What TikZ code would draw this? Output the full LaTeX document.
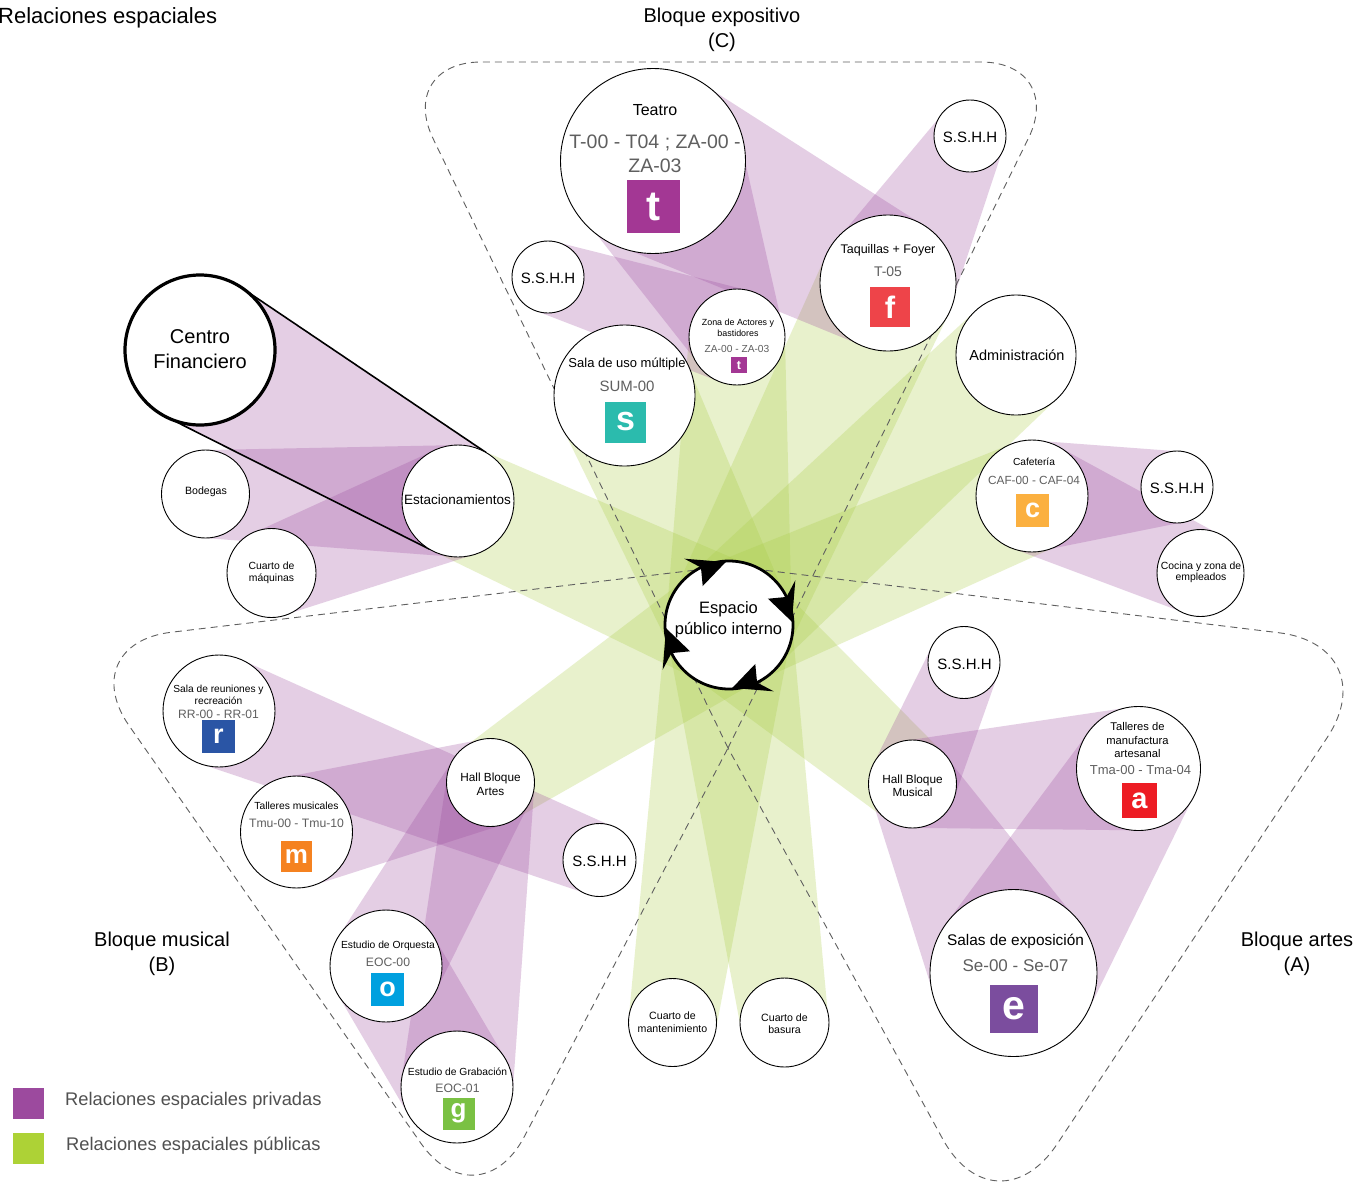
\documentclass[tikz,border=0pt]{standalone}
\usepackage{fontspec}
\setmainfont{Liberation Sans}
\usetikzlibrary{calc}
\pgfdeclarelayer{bands}
\pgfdeclarelayer{dashes}
\pgfsetlayers{bands,dashes,main}
\definecolor{priv}{RGB}{156,74,158}
\definecolor{pub}{RGB}{170,205,70}
\definecolor{legpriv}{RGB}{156,74,158}
\definecolor{legpub}{RGB}{173,210,54}
\definecolor{codegray}{RGB}{95,95,95}
\definecolor{leggray}{RGB}{80,80,80}
\definecolor{dashgray}{RGB}{95,95,95}
\definecolor{sqt}{RGB}{163,55,148}
\definecolor{sqs}{RGB}{43,187,173}
\definecolor{sqf}{RGB}{238,68,73}
\definecolor{sqc}{RGB}{251,176,64}
\definecolor{sqr}{RGB}{42,85,165}
\definecolor{sqm}{RGB}{245,130,32}
\definecolor{sqo}{RGB}{0,160,223}
\definecolor{sqg}{RGB}{122,193,67}
\definecolor{sqa}{RGB}{237,28,36}
\definecolor{sqe}{RGB}{123,77,158}
\newcommand\myfs[2]{\fontsize{#1}{#2}\selectfont}
\newcommand\relband[5]{%
  \fill[#1] ($(#2.center)!#3pt!90:(#4.center)$) -- ($(#2.center)!#3pt!-90:(#4.center)$)
    -- ($(#4.center)!#5pt!90:(#2.center)$) -- ($(#4.center)!#5pt!-90:(#2.center)$) -- cycle;}
\tikzset{
  room/.style={circle, draw=black, line width=0.9pt, fill=white, inner sep=0pt, minimum size=#1pt},
  lbl/.style={inner sep=0pt, align=center, text=black},
  code/.style={inner sep=0pt, align=center, text=codegray},
  sq/.style={fill=#1, text=white, inner sep=0pt},
  privband/.style={fill=priv, fill opacity=0.27},
  pubband/.style={fill=pub, fill opacity=0.27},
  blockline/.style={draw=dashgray, line width=0.9pt, dash pattern=on 7pt off 5pt},
  blocktitle/.style={inner sep=0pt, align=center, font=\myfs{20}{25}},
  tangent/.style={draw=black, line width=1.6pt},
  legtext/.style={inner sep=0pt, anchor=west, text=leggray, font=\myfs{18.3}{22}},
}
\begin{document}
\begin{tikzpicture}[x=1pt,y=-1pt]
\useasboundingbox (0,0) rectangle (1355,1181);

% ---------- rooms ----------
\node[room=150, line width=3.2pt] (cf) at (200,350) {};
\node[room=112] (est) at (458,501) {};
\node[room=88] (bod) at (205.5,494) {};
\node[room=89] (maq) at (271.5,573) {};
\node[room=185] (teatro) at (653,161) {};
\node[room=72] (ssB) at (548,277) {};
\node[room=96] (za) at (737,337) {};
\node[room=141] (sum) at (624.5,395.5) {};
\node[room=136] (taq) at (888,283) {};
\node[room=72] (ssA) at (970,136) {};
\node[room=120] (admin) at (1016,355) {};
\node[room=112] (caf) at (1032,496) {};
\node[room=72] (ssC) at (1177,487) {};
\node[room=87] (cocina) at (1200.5,573) {};
\node[room=128, line width=2.8pt] (esp) at (729,625) {};
\node[room=88] (hallA) at (490.5,782.5) {};
\node[room=112] (reu) at (219,711) {};
\node[room=112] (tmu) at (296.5,832) {};
\node[room=73] (ssD) at (599.5,860) {};
\node[room=112] (orq) at (386,966) {};
\node[room=112] (grab) at (457,1087) {};
\node[room=88] (mant) at (672.5,1022.5) {};
\node[room=89] (bas) at (784.5,1022.5) {};
\node[room=72] (ssE) at (964,662.5) {};
\node[room=88] (hallM) at (912.5,784) {};
\node[room=124] (tman) at (1138.5,768.5) {};
\node[room=167] (salas) at (1013.5,973) {};

% ---------- block outline corners ----------
\coordinate (Ptop) at (730,566);
\coordinate (Pbot) at (728,748);
\coordinate (CTL) at (396,62);
\coordinate (CTR) at (1066,62);
\coordinate (BTL) at (72,644);
\coordinate (BBOT) at (478,1225);
\coordinate (ATR) at (1388,646);
\coordinate (ABOT) at (996,1236);

% ---------- bands ----------
\begin{pgfonlayer}{bands}
\fill[white] (0,0) rectangle (1355,1181);
% public relations
\relband{pubband}{esp}{63}{est}{56}
\relband{pubband}{esp}{63}{sum}{70}
\relband{pubband}{esp}{63}{za}{48}
\relband{pubband}{esp}{63}{taq}{68}
\relband{pubband}{esp}{63}{admin}{60}
\relband{pubband}{esp}{63}{caf}{56}
\relband{pubband}{esp}{63}{hallA}{44}
\relband{pubband}{esp}{63}{hallM}{44}
\relband{pubband}{esp}{63}{mant}{44}
\relband{pubband}{esp}{63}{bas}{44}
% private relations
\relband{privband}{cf}{75}{est}{56}
\relband{privband}{bod}{44}{est}{56}
\relband{privband}{maq}{44}{est}{56}
\relband{privband}{ssB}{36}{za}{48}
\relband{privband}{teatro}{92}{za}{48}
\relband{privband}{teatro}{92}{taq}{68}
\relband{privband}{ssA}{36}{taq}{68}
\relband{privband}{caf}{56}{ssC}{36}
\relband{privband}{caf}{56}{cocina}{43}
\relband{privband}{reu}{56}{ssD}{36}
\relband{privband}{tmu}{56}{hallA}{44}
\relband{privband}{orq}{56}{hallA}{44}
\relband{privband}{grab}{56}{hallA}{44}
\relband{privband}{orq}{56}{grab}{56}
\relband{privband}{hallM}{44}{ssE}{36}
\relband{privband}{hallM}{44}{tman}{62}
\relband{privband}{hallM}{44}{salas}{84}
\relband{privband}{tman}{62}{salas}{84}
\end{pgfonlayer}

\begin{pgfonlayer}{dashes}
\draw[blockline, rounded corners=85pt] (Pbot) -- (CTL) -- (CTR) -- (Pbot);
\draw[blockline, rounded corners=100pt] (Ptop) -- (BTL) -- (BBOT) -- (Pbot);
\draw[blockline, rounded corners=110pt] (Ptop) -- (ATR) -- (ABOT) -- (Pbot);
\draw[tangent] ($(cf.center)!75pt!90:(est.center)$) -- ($(est.center)!56pt!-90:(cf.center)$);
\draw[tangent] ($(cf.center)!75pt!-90:(est.center)$) -- ($(est.center)!56pt!90:(cf.center)$);
\end{pgfonlayer}

% ---------- cycle arrows on central space ----------
\foreach \t in {93,3,-87,-177}
  \fill[black] ($(esp.center)+(\t:63pt)$) -- ($(esp.center)+({\t+31}:80pt)$)
     -- ($(esp.center)+({\t+23}:64pt)$) -- ($(esp.center)+({\t+31}:47pt)$) -- cycle;

% ---------- texts ----------
\node[lbl, font=\myfs{20}{25}] (cf-t) at (200,349) {Centro\\Financiero};
\node[lbl, font=\myfs{13.5}{16}] (est-t) at (457.5,499.5) {Estacionamientos};
\node[lbl, font=\myfs{10.6}{13}] (bod-t) at (206,491.5) {Bodegas};
\node[lbl, font=\myfs{10.4}{11.8}] (maq-t) at (271.5,572.5) {Cuarto de\\máquinas};

\node[lbl, font=\myfs{16}{19}] (teatro-t) at (655,110) {Teatro};
\node[code, font=\myfs{19.5}{24}] (teatro-c) at (655,154) {T-00 - T04 ; ZA-00 -\\ZA-03};
\node[sq=sqt, minimum size=53pt, font=\myfs{42}{42}\bfseries] (teatro-s) at (653.5,206.5) {t};

\node[lbl, font=\myfs{15}{18}] (ssB-t) at (548,278) {S.S.H.H};
\node[lbl, font=\myfs{8.9}{11}] (za-t) at (738,328) {Zona de Actores y\\bastidores};
\node[code, font=\myfs{10.2}{12}] (za-c) at (737,348.5) {ZA-00 - ZA-03};
\node[sq=sqt, minimum size=16pt, font=\myfs{12.5}{12.5}\bfseries] (za-s) at (739,365) {t};

\node[lbl, font=\myfs{13}{16}] (sum-t) at (627,364) {Sala de uso múltiple};
\node[code, font=\myfs{15}{18}] (sum-c) at (627,386.5) {SUM-00};
\node[sq=sqs, minimum size=41pt, font=\myfs{34}{34}\bfseries] (sum-s) at (625.5,422) {s};

\node[lbl, font=\myfs{12.5}{15}] (taq-t) at (888,250) {Taquillas + Foyer};
\node[code, font=\myfs{14}{17}] (taq-c) at (888,271.5) {T-05};
\node[sq=sqf, minimum size=40pt, font=\myfs{31}{31}\bfseries] (taq-s) at (890,307) {f};

\node[lbl, font=\myfs{15}{18}] (ssA-t) at (970,137) {S.S.H.H};
\node[lbl, font=\myfs{14.5}{17}] (admin-t) at (1017,355.5) {Administración};

\node[lbl, font=\myfs{10.2}{12}] (caf-t) at (1034,462) {Cafetería};
\node[code, font=\myfs{11.8}{14}] (caf-c) at (1034,480) {CAF-00 - CAF-04};
\node[sq=sqc, minimum size=33pt, font=\myfs{27}{27}\bfseries] (caf-s) at (1032.5,510.5) {c};
\node[lbl, font=\myfs{15}{18}] (ssC-t) at (1177,488) {S.S.H.H};
\node[lbl, font=\myfs{10.4}{11.5}] (cocina-t) at (1201,572.5) {Cocina y zona de\\empleados};

\node[lbl, font=\myfs{16.5}{21}] (esp-t) at (728.5,620) {Espacio\\público interno};

\node[lbl, font=\myfs{10.2}{12.5}] (reu-t) at (218.5,695) {Sala de reuniones y\\recreación};
\node[code, font=\myfs{12.1}{14}] (reu-c) at (218.5,714) {RR-00 - RR-01};
\node[sq=sqr, minimum size=33pt, font=\myfs{27}{27}\bfseries] (reu-s) at (218.5,736.5) {r};

\node[lbl, font=\myfs{10.3}{12}] (tmu-t) at (296.5,806) {Talleres musicales};
\node[code, font=\myfs{12.2}{14}] (tmu-c) at (296.5,823) {Tmu-00 - Tmu-10};
\node[sq=sqm, minimum size=31pt, font=\myfs{26}{26}\bfseries] (tmu-s) at (296.5,856.5) {m};

\node[lbl, font=\myfs{11.8}{13.5}] (hallA-t) at (490.5,784.5) {Hall Bloque\\Artes};
\node[lbl, font=\myfs{15}{18}] (ssD-t) at (599.5,861) {S.S.H.H};

\node[lbl, font=\myfs{10.3}{12}] (orq-t) at (388,945.5) {Estudio de Orquesta};
\node[code, font=\myfs{12.2}{14}] (orq-c) at (388,962) {EOC-00};
\node[sq=sqo, minimum size=33pt, font=\myfs{27}{27}\bfseries] (orq-s) at (387.5,989.5) {o};

\node[lbl, font=\myfs{10.3}{12}] (grab-t) at (457.5,1071.5) {Estudio de Grabación};
\node[code, font=\myfs{12.2}{14}] (grab-c) at (457.5,1088) {EOC-01};
\node[sq=sqg, minimum size=32pt, font=\myfs{26}{26}\bfseries] (grab-s) at (458.5,1113.5) {g};

\node[lbl, font=\myfs{10.6}{13.3}] (mant-t) at (672.5,1022) {Cuarto de\\mantenimiento};
\node[lbl, font=\myfs{10.6}{12.6}] (bas-t) at (784.5,1023.5) {Cuarto de\\basura};

\node[lbl, font=\myfs{15}{18}] (ssE-t) at (964.5,664) {S.S.H.H};
\node[lbl, font=\myfs{11.8}{13.4}] (hallM-t) at (912.5,785.5) {Hall Bloque\\Musical};

\node[lbl, font=\myfs{11.2}{13.6}] (tman-t) at (1137.5,740) {Talleres de\\manufactura\\artesanal};
\node[code, font=\myfs{13}{15}] (tman-c) at (1140.5,770) {Tma-00 - Tma-04};
\node[sq=sqa, minimum size=35pt, font=\myfs{29}{29}\bfseries] (tman-s) at (1139.5,800.5) {a};

\node[lbl, font=\myfs{15.4}{18}] (salas-t) at (1015.5,941) {Salas de exposición};
\node[code, font=\myfs{17}{20}] (salas-c) at (1015.5,965.5) {Se-00 - Se-07};
\node[sq=sqe, minimum size=48pt, font=\myfs{41}{41}\bfseries] (salas-s) at (1013.5,1008.5) {e};

% ---------- titles ----------
\node[inner sep=0pt, anchor=west, font=\myfs{22}{26}] (title) at (-2,17.5) {Relaciones espaciales};
\node[blocktitle] (blkC) at (722,29.5) {Bloque expositivo\\(C)};
\node[blocktitle] (blkB) at (162,953.5) {Bloque musical\\(B)};
\node[blocktitle] (blkA) at (1297,953.5) {Bloque artes\\(A)};

% ---------- legend ----------
\node[fill=legpriv, minimum size=31pt, inner sep=0pt] (leg-p) at (28.5,1103) {};
\node[fill=legpub, minimum size=31pt, inner sep=0pt] (leg-g) at (28.5,1148) {};
\node[legtext] (leg-pt) at (65,1101) {Relaciones espaciales privadas};
\node[legtext] (leg-gt) at (66,1146) {Relaciones espaciales públicas};
\end{tikzpicture}
\end{document}
